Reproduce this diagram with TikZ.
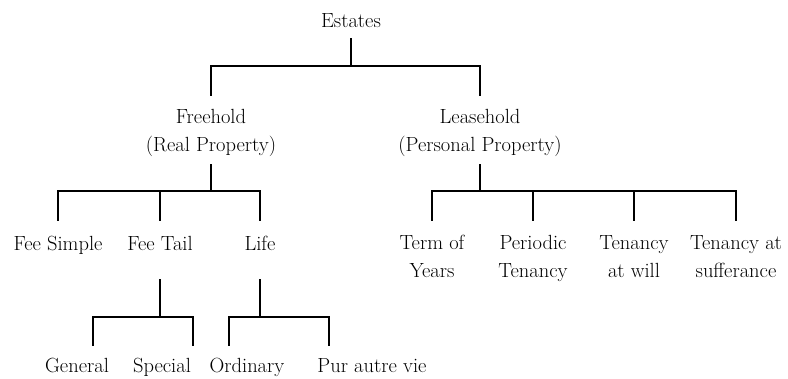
\documentclass[tikz,border=0pt]{standalone}
\usetikzlibrary{calc}
\begin{document}
\begin{tikzpicture}[x=1pt,y=-1pt,
  lbl/.style={inner sep=0pt, anchor=base, align=center,
              font=\fontsize{20.5}{28}\selectfont},
  link/.style={line width=1.1pt, line cap=rect}]
\useasboundingbox (0,0) rectangle (788,379);

% tree labels (anchored at the baseline of their last line)
\node[lbl] (estates)   at (351,28)  {Estates};
\node[lbl] (freehold)  at (211,152) {Freehold\\(Real Property)};
\node[lbl] (leasehold) at (480,152) {Leasehold\\(Personal Property)};

\node[lbl] (feesimple) at (58,251)  {Fee Simple};
\node[lbl] (feetail)   at (160,251) {Fee Tail};
\node[lbl] (life)      at (260,251) {Life};

\node[lbl] (term)      at (432,278) {Term of\\Years};
\node[lbl] (periodic)  at (533,278) {Periodic\\Tenancy};
\node[lbl] (atwill)    at (634,278) {Tenancy\\at will};
\node[lbl] (suffer)    at (736,278) {Tenancy at\\sufferance};

\node[lbl] (general)   at (77,373)  {General};
\node[lbl] (special)   at (162,373) {Special};
\node[lbl] (ordinary)  at (247,373) {Ordinary};
\node[lbl] (pur)       at (372,373) {Pur autre vie};

% junctions of the branching bars
\coordinate (j0) at (351,66);
\coordinate (j1) at (211,191);
\coordinate (j2) at (480,191);
\coordinate (j3) at (160,317);
\coordinate (j4) at (260,317);

% ends of the lowest drops
\coordinate (g1) at (93,345);
\coordinate (g2) at (193,345);
\coordinate (o1) at (229,345);
\coordinate (o2) at (329,345);

% Estates
\draw[link] ($(estates.base)+(0,11)$) -- (j0);
\draw[link] ($(freehold.base)+(0,-57)$) |- (j0) -| ($(leasehold.base)+(0,-57)$);

% Freehold
\draw[link] ($(freehold.base)+(0,13)$) -- (j1);
\draw[link] ($(feesimple.base)+(0,-31)$) |- (j1) -| ($(life.base)+(0,-31)$);
\draw[link] ($(feetail.base)+(0,-31)$) -- (feetail.base |- j1);

% Leasehold
\draw[link] ($(leasehold.base)+(0,13)$) -- (j2);
\draw[link] ($(term.base)+(0,-58)$) |- (j2) -| ($(suffer.base)+(0,-58)$);
\draw[link] ($(periodic.base)+(0,-58)$) -- (periodic.base |- j2);
\draw[link] ($(atwill.base)+(0,-58)$) -- (atwill.base |- j2);

% Fee Tail
\draw[link] ($(feetail.base)+(0,29)$) -- (j3);
\draw[link] (g1) |- (j3) -| (g2);

% Life
\draw[link] ($(life.base)+(0,29)$) -- (j4);
\draw[link] (o1) |- (j4) -| (o2);
\end{tikzpicture}
\end{document}
